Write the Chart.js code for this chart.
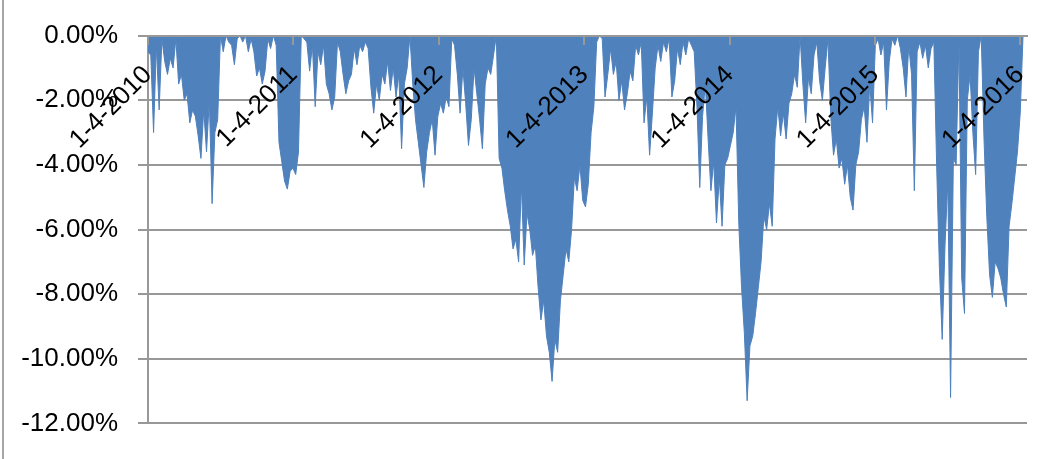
<!DOCTYPE html>
<html>
<head>
<meta charset="utf-8">
<script src="https://cdn.jsdelivr.net/npm/chart.js@4/dist/chart.umd.min.js"></script>
<style>
html,body{margin:0;padding:0;background:#fff;}
#wrap{position:relative;width:1038px;height:459px;overflow:hidden;background:#fff;}
#frame{position:absolute;left:2px;top:0;width:2px;height:459px;background:#a6a6a6;}
canvas{position:absolute;left:0;top:0;}
</style>
</head>
<body>
<div id="wrap"><canvas id="c" width="1038" height="459"></canvas><div id="frame"></div></div>
<script>
// ---- data (weekly drawdown in %, one value per week starting 2010-01-04) ----
const startDate = '2010-01-04';
const axisEndDate = '2016-01-21';
const tickLabels = ['1-4-2010', '1-4-2011', '1-4-2012', '1-4-2013', '1-4-2014', '1-4-2015', '1-4-2016'];
const yTickValues = [0, -2, -4, -6, -8, -10, -12];

const dd2010 = [-0.5, -0.6, -3.0, -0.3, -2.3, -0.1, -0.8, -1.2, -0.7, -1.0,
  -0.1, -1.5, -1.2, -2.0, -1.8, -2.7, -2.3, -2.5, -3.1, -3.8,
  -2.3, -3.6, -2.0, -5.2, -3.0, -2.6, 0, -0.5, 0, -0.2,
  -0.3, -0.9, -0.1, 0, -0.2, 0, -0.5, -0.1, -0.5, -1.25,
  -1.0, -1.5, -1.1, -0.1, -0.4, 0, -0.3, -3.3, -3.9, -4.5,
  -4.75, -4.2];
const dd2011 = [-4.1, -4.3, -3.6, 0, -0.1, -0.2, -1.1, -0.3, -2.2, -0.5,
  -0.9, -0.3, -1.5, -1.8, -2.3, -1.9, -0.2, -0.5, -1.2, -1.8,
  -1.4, -1.2, -0.4, -0.9, -0.3, -0.5, -0.2, -0.4, -1.6, -2.4,
  -1.5, -2.0, -1.2, -1.5, -0.8, -1.7, -1.0, -1.9, -1.2, -3.5,
  -1.5, -1.0, 0, -1.5, -2.6, -3.3, -4.0, -4.7, -3.6, -3.0,
  -2.6, -3.7];
const dd2012 = [-2.5, -2.1, -2.4, -1.9, -2.2, -0.1, -0.3, -1.2, -2.4, -1.0,
  -2.1, -3.4, -2.6, -1.0, -1.8, -2.6, -3.5, -1.5, -1.0, -1.2,
  -0.6, 0, -3.8, -4.1, -4.8, -5.4, -5.9, -6.6, -6.3, -7.0,
  -4.6, -7.1, -5.5, -6.0, -6.8, -6.5, -7.8, -8.8, -8.2, -9.3,
  -9.8, -10.7, -9.4, -9.8, -8.2, -7.4, -6.6, -7.0, -6.0, -4.4,
  -4.8, -4.0];
const dd2013 = [-5.1, -5.3, -4.6, -3.0, -2.2, -0.2, 0, -0.1, -1.9, -1.2,
  -0.4, -1.2, -0.8, -2.0, -1.4, -2.3, -1.8, -1.1, -1.4, -0.3,
  -0.6, -0.2, -2.7, -1.9, -3.7, -2.4, -1.0, -0.3, -0.8, -0.2,
  -0.5, -0.1, -1.9, -1.4, -0.4, -0.9, -0.2, -0.6, -0.1, -0.3,
  -0.5, -2.2, -4.7, -2.5, -1.5, -3.2, -4.8, -3.9, -5.8, -4.4,
  -5.9, -4.0];
const dd2014 = [-3.8, -3.4, -3.0, -2.2, -5.8, -7.8, -9.2, -11.3, -9.6, -9.3,
  -8.6, -7.8, -7.0, -5.6, -6.0, -5.2, -5.9, -3.2, -2.2, -3.1,
  -2.4, -3.2, -2.1, -1.8, -1.2, -1.6, 0, -1.5, -2.7, -1.3,
  -1.8, -0.6, -0.2, -1.4, -2.0, -1.0, -0.1, -2.5, -3.7, -3.2,
  -4.1, -3.8, -4.6, -4.0, -5.0, -5.4, -4.0, -3.6, -2.6, -2.2,
  -3.3, -1.5];
const dd2015 = [-2.7, -0.3, -0.1, -0.6, -0.2, -2.3, -0.8, -0.1, -0.3, 0,
  -0.4, -1.0, -1.9, -0.3, -1.2, -4.8, -0.5, -0.2, -0.7, -0.3,
  -1.0, -0.4, -0.2, -4.0, -7.2, -9.4, -6.5, -4.5, -11.2, -3.8,
  -4.0, -0.1, -7.5, -8.6, -2.0, -1.2, -3.0, -4.3, -0.5, 0,
  -3.2, -5.6, -7.4, -8.1, -7.0, -7.2, -7.5, -8.0, -8.4, -5.9,
  -5.2, -4.4];
const dd2016 = [-3.6, -2.4, 0];

// ---- derived ----
const DAY = 86400000;
function isoToUtc(s) { const [y, m, d] = s.split('-').map(Number); return Date.UTC(y, m - 1, d); }
function labelToUtc(s) { const [m, d, y] = s.split('-').map(Number); return Date.UTC(y, m - 1, d); }
const t0 = isoToUtc(startDate);
const axisEndDays = (isoToUtc(axisEndDate) - t0) / DAY;
const tickDays = tickLabels.map(l => (labelToUtc(l) - t0) / DAY);
const weekly = [].concat(dd2010, dd2011, dd2012, dd2013, dd2014, dd2015, dd2016);
const points = weekly.map((v, i) => ({ x: i * 7, y: v }));

const FONT = { family: '"Liberation Sans", Arial, sans-serif', size: 26 };
const GRID = '#989898';

new Chart(document.getElementById('c'), {
  type: 'line',
  data: {
    datasets: [{
      data: points,
      fill: 'origin',
      backgroundColor: '#4F81BD',
      borderColor: '#4F81BD',
      borderWidth: 1,
      pointRadius: 0,
      tension: 0
    }]
  },
  options: {
    responsive: false,
    animation: false,
    devicePixelRatio: 1,
    events: [],
    layout: { padding: { left: 0, top: 32, right: 11, bottom: 31 } },
    plugins: { legend: { display: false }, tooltip: { enabled: false } },
    scales: {
      x: {
        type: 'linear',
        position: { y: 0 },
        min: 0,
        max: axisEndDays,
        afterBuildTicks: s => { s.ticks = tickDays.map(v => ({ value: v })); },
        afterFit: s => { s.paddingLeft = 0; s.paddingRight = 0; },
        ticks: {
          autoSkip: false, minRotation: 45, maxRotation: 45, padding: 16,
          color: '#000', font: FONT, z: 1,
          callback: (v, i) => tickLabels[i]
        },
        grid: { drawOnChartArea: false, drawTicks: true, tickLength: 8, color: GRID, lineWidth: 2, z: 1 },
        border: { display: true, color: GRID, width: 2, z: 1 }
      },
      y: {
        min: -12,
        max: 0,
        afterBuildTicks: s => { s.ticks = yTickValues.map(v => ({ value: v })); },
        afterFit: s => { s.width = 148; },
        ticks: {
          padding: 20, color: '#000', font: FONT,
          callback: v => v.toFixed(2) + '%'
        },
        grid: { color: GRID, lineWidth: 2, tickLength: 10, drawTicks: true },
        border: { display: true, color: GRID, width: 2 }
      }
    }
  }
});
</script>
</body>
</html>
